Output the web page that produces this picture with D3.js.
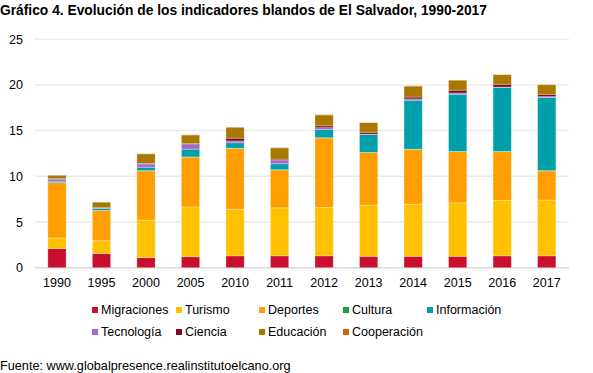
<!DOCTYPE html>
<html>
<head>
<meta charset="utf-8">
<script src="https://cdn.jsdelivr.net/npm/d3@7"></script>
<style>
  body { margin: 0; background: #fff; }
  text { font-family: "Liberation Sans", Arial, sans-serif; fill: #000; }
</style>
</head>
<body>
<div id="chart"></div>
<script>
const svgWidth = 593;
const svgHeight = 373;

// data
const years = ["1990", "1995", "2000", "2005", "2010", "2011", "2012", "2013", "2014", "2015", "2016", "2017"];
const migraciones = [2.1, 1.55, 1.1, 1.2, 1.3, 1.3, 1.3, 1.25, 1.25, 1.25, 1.3, 1.3];
const turismo = [1.15, 1.4, 4.1, 5.45, 5.1, 5.25, 5.3, 5.6, 5.7, 5.85, 6.05, 6.1];
const deportes = [6.05, 3.3, 5.4, 5.45, 6.65, 4.15, 7.6, 5.75, 6.0, 5.6, 5.35, 3.2];
const cultura = [0.02, 0.02, 0.02, 0.02, 0.02, 0.02, 0.02, 0.02, 0.02, 0.02, 0.02, 0.02];
const informacion = [0.15, 0.2, 0.37, 0.85, 0.6, 0.65, 0.9, 1.95, 5.35, 6.25, 7.0, 8.0];
const tecnologia = [0.2, 0.05, 0.36, 0.5, 0.2, 0.35, 0.2, 0.05, 0.15, 0.15, 0.05, 0.1];
const ciencia = [0.1, 0.05, 0.05, 0.1, 0.3, 0.15, 0.2, 0.2, 0.2, 0.3, 0.3, 0.25];
const educacion = [0.35, 0.6, 1.05, 0.95, 1.2, 1.25, 1.2, 1.05, 1.2, 1.1, 1.05, 1.05];
const cooperacion = [0.02, 0.02, 0.02, 0.02, 0.02, 0.02, 0.02, 0.02, 0.02, 0.02, 0.02, 0.02];
const yTicks = [0, 5, 10, 15, 20, 25];

const seriesNames = ["Migraciones", "Turismo", "Deportes", "Cultura", "Información",
  "Tecnología", "Ciencia", "Educación", "Cooperación"];
const seriesValues = [migraciones, turismo, deportes, cultura, informacion,
  tecnologia, ciencia, educacion, cooperacion];
const colors = ["#c8102e", "#ffc000", "#ff9e00", "#1f9e3a", "#00a0aa",
  "#a366d6", "#7a0a1c", "#a87800", "#c8650a"];

// build rows for d3.stack
const table = years.map((y, i) => {
  const row = { year: y };
  seriesNames.forEach((s, j) => { row[s] = seriesValues[j][i]; });
  return row;
});

const svg = d3.select("#chart")
  .append("svg")
  .attr("width", svgWidth)
  .attr("height", svgHeight);

// title
svg.append("text")
  .attr("x", 0)
  .attr("y", 15)
  .style("font-weight", "bold")
  .style("font-size", "13.8px")
  .text("Gráfico 4. Evolución de los indicadores blandos de El Salvador, 1990-2017");

const x = d3.scaleBand()
  .domain(years)
  .range([34.7, 569])
  .paddingInner(0.59)
  .paddingOuter(0.295);

const y = d3.scaleLinear()
  .domain([0, 25])
  .range([267.7, 39.2]);

// gridlines
svg.append("g")
  .selectAll("line")
  .data(yTicks)
  .enter()
  .append("line")
  .attr("x1", 34.7)
  .attr("x2", 569)
  .attr("y1", d => y(d))
  .attr("y2", d => y(d))
  .attr("stroke", d => d === 0 ? "#d9d9d9" : "#ebebeb")
  .attr("stroke-width", 1.5);

// y axis labels
const leftAxis = d3.axisLeft(y).tickValues(yTicks).tickSize(0).tickPadding(0);
const yAxis = svg.append("g")
  .attr("transform", "translate(23,0)")
  .call(leftAxis);
yAxis.select(".domain").remove();
yAxis.selectAll("text").style("font-size", "12.5px").style("font-family", "Liberation Sans, Arial, sans-serif");

// x axis labels
const bottomAxis = d3.axisBottom(x).tickSize(0).tickPadding(10);
const xAxis = svg.append("g")
  .attr("transform", `translate(0, ${y(0)})`)
  .call(bottomAxis);
xAxis.select(".domain").remove();
xAxis.selectAll("text").style("font-size", "12.5px").style("font-family", "Liberation Sans, Arial, sans-serif");

// stacked bars
const stacked = d3.stack().keys(seriesNames)(table);

svg.append("g")
  .selectAll("g")
  .data(stacked)
  .enter()
  .append("g")
  .attr("fill", (d, i) => colors[i])
  .selectAll("rect")
  .data(d => d)
  .enter()
  .append("rect")
  .attr("x", d => x(d.data.year))
  .attr("width", x.bandwidth())
  .attr("y", d => y(d[1]))
  .attr("height", d => y(d[0]) - y(d[1]))
  .attr("stroke", "#fff")
  .attr("stroke-opacity", 0.35)
  .attr("stroke-width", 0.8);

// legend
const legendX = [92, 176, 259, 343, 427];
const legendY = [310, 332];
const legend = svg.append("g")
  .selectAll("g")
  .data(seriesNames)
  .enter()
  .append("g")
  .attr("transform", (d, i) => `translate(${legendX[i % 5]}, ${legendY[Math.floor(i / 5)]})`);

legend.append("rect")
  .attr("x", 0)
  .attr("y", -3)
  .attr("width", 6)
  .attr("height", 6)
  .attr("fill", (d, i) => colors[i]);

legend.append("text")
  .attr("x", 9)
  .attr("y", 0)
  .attr("dy", "0.35em")
  .style("font-size", "12.5px")
  .text(d => d);

// source
svg.append("text")
  .attr("x", 0)
  .attr("y", 370)
  .style("font-size", "12.7px")
  .text("Fuente: www.globalpresence.realinstitutoelcano.org");
</script>
</body>
</html>
